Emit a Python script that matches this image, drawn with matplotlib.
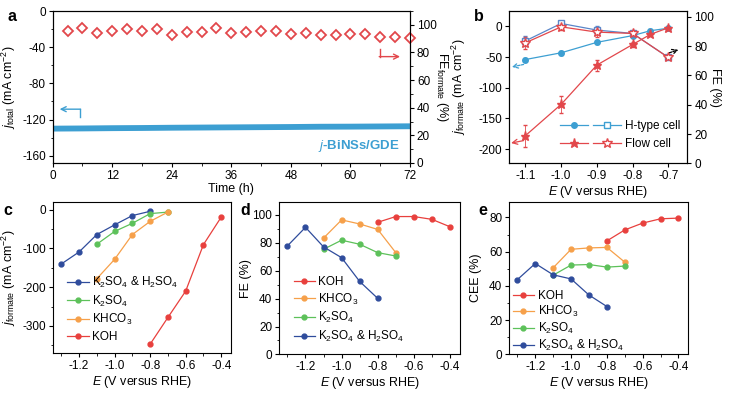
import matplotlib
matplotlib.use("Agg")
import matplotlib.pyplot as plt
import numpy as np
from matplotlib.ticker import AutoMinorLocator, MultipleLocator
from matplotlib.lines import Line2D
from matplotlib.legend_handler import HandlerTuple

plt.rcParams['font.family'] = ['Liberation Sans', 'DejaVu Sans']
plt.rcParams['font.size'] = 9
plt.rcParams['mathtext.fontset'] = 'custom'
plt.rcParams['mathtext.rm'] = 'Liberation Sans'
plt.rcParams['mathtext.it'] = 'Liberation Sans:italic'
plt.rcParams['mathtext.bf'] = 'Liberation Sans:bold'
plt.rcParams['axes.unicode_minus'] = False
plt.rcParams['axes.linewidth'] = 0.8
plt.rcParams['xtick.major.size'] = 3
plt.rcParams['ytick.major.size'] = 3
plt.rcParams['xtick.minor.size'] = 1.8
plt.rcParams['ytick.minor.size'] = 1.8

# ---- panel a: long-term stability
time_h = [0, 6, 12, 18, 24, 30, 36, 42, 48, 54, 60, 66, 72]
j_total = [-130.0, -129.8, -129.5, -129.3, -129.0, -128.8, -128.6, -128.4, -128.2, -127.9, -127.8, -127.6, -127.4]
t_fe = [3, 6, 9, 12, 15, 18, 21, 24, 27, 30, 33, 36, 39, 42, 45, 48, 51, 54, 57, 60, 63, 66, 69, 72]
fe_formate = [95.4, 97.5, 93.8, 95.9, 97.2, 95.6, 97.0, 92.9, 94.7, 94.9, 97.7, 94.0,
              94.7, 95.2, 95.4, 93.3, 94.0, 92.4, 92.4, 93.6, 93.3, 91.5, 91.3, 90.6]

# ---- panel b: H-type cell vs flow cell
E_b = [-1.1, -1.0, -0.9, -0.8, -0.75, -0.7]
j_htype = [-54, -43, -26, -15, -7, -3]
j_htype_err = [3, 3, 2, 2, 2, 1]
j_flow = [-178, -127, -63, -29.5, -13, -2.3]
j_flow_err = [18, 14, 9, 4, 3, 1]
E_b_fe = [-1.1, -1.0, -0.9, -0.8, -0.7]
fe_htype = [83.6, 95.5, 91.0, 88.7, 72.3]
fe_htype_err = [3.5, 2, 3, 2, 1]
fe_flow = [82.3, 93.2, 89.6, 88.7, 72.3]
fe_flow_err = [4, 2, 3, 2, 1]

# ---- panels c-e: electrolytes
E_koh = [-0.8, -0.7, -0.6, -0.5, -0.4]
E_khco3 = [-1.1, -1.0, -0.9, -0.8, -0.7]
E_k2so4 = [-1.1, -1.0, -0.9, -0.8, -0.7]
E_acid = [-1.3, -1.2, -1.1, -1.0, -0.9, -0.8]

j_koh = [-347, -278, -210, -90, -19]
j_khco3 = [-178, -128, -64, -30, -6]
j_k2so4 = [-89, -56, -35, -10, -6]
j_acid = [-140, -109, -64, -39, -15, -4]

fe_koh = [94.5, 98.6, 98.6, 96.6, 91.3]
fe_khco3 = [83.2, 96.2, 93.3, 89.4, 72.8]
fe_k2so4 = [75.2, 81.7, 78.8, 72.8, 70.4]
fe_acid = [77.6, 90.9, 76.9, 69.2, 52.2, 40.1]

cee_koh = [66.3, 72.7, 76.7, 79.2, 79.6]
cee_khco3 = [50.6, 61.4, 62.2, 62.5, 53.9]
cee_k2so4 = [46.3, 52.2, 52.5, 51.0, 51.6]
cee_acid = [43.7, 53.1, 46.5, 44.1, 34.7, 28.0]

c_blue = '#3d9fd2'
c_red = '#e2474b'
c_koh = '#e8403d'
c_khco3 = '#f6a04a'
c_k2so4 = '#5dc15a'
c_acid = '#2f4c9c'

fig = plt.figure(figsize=(7.3, 3.94), dpi=100)

# ================= a
ax = fig.add_axes([0.0722, 0.5863, 0.4894, 0.3857])
ax.plot(time_h, j_total, color=c_blue, lw=4.2, solid_capstyle='butt')
ax.set_xlim(0, 72)
ax.set_ylim(-168, 0)
ax.xaxis.set_major_locator(MultipleLocator(12))
ax.yaxis.set_major_locator(MultipleLocator(40))
ax.xaxis.set_minor_locator(AutoMinorLocator(2))
ax.yaxis.set_minor_locator(AutoMinorLocator(2))
ax.set_xlabel('Time (h)', labelpad=1)
ax.set_ylabel(r'$j_{\rm total}$ (mA cm$^{-2}$)')
ax.yaxis.set_label_coords(-0.098, 0.5)
ax.annotate('', xy=(1.4, -108.5), xytext=(5.6, -108.5),
            arrowprops=dict(arrowstyle='->', color=c_blue, lw=1, shrinkA=0, shrinkB=0))
ax.plot([5.5, 5.5], [-108.5, -117], color=c_blue, lw=1)
ax.text(70, -149, r'$\it{j}$-BiNSs/GDE', color=c_blue, fontweight='bold',
        fontsize=9.5, ha='right', va='center')
ax2 = ax.twinx()
ax2.plot(t_fe, fe_formate, 'D', ms=5, mfc='white', mec=c_red, mew=1.3, clip_on=False)
ax2.set_ylim(0, 110)
ax2.yaxis.set_major_locator(MultipleLocator(20))
ax2.yaxis.set_minor_locator(AutoMinorLocator(2))
ax2.set_ylabel(r'FE$_{\rm formate}$ (%)', rotation=270)
ax2.yaxis.set_label_coords(1.112, 0.5)
ax2.annotate('', xy=(70.0, 77), xytext=(65.8, 77),
             arrowprops=dict(arrowstyle='->', color=c_red, lw=1, shrinkA=0, shrinkB=0))
ax2.plot([65.9, 65.9], [77, 82.5], color=c_red, lw=1)
ax.text(-0.114, 0.967, 'a', transform=ax.transAxes, fontsize=11.5, fontweight='bold',
        ha='center', va='center')

# ================= b
bx = fig.add_axes([0.6977, 0.5855, 0.2438, 0.3865])
bx.errorbar(E_b, j_htype, yerr=j_htype_err, color=c_blue, marker='o', ms=4,
            lw=0.9, capsize=1.5, elinewidth=0.6)
bx.errorbar(E_b, j_flow, yerr=j_flow_err, color=c_red, marker='*', ms=6.5,
            lw=0.9, capsize=1.5, elinewidth=0.6)
bx.set_xlim(-1.145, -0.647)
bx.set_ylim(-223, 25)
bx.yaxis.set_major_locator(MultipleLocator(50))
bx.set_xticks([-1.1, -1.0, -0.9, -0.8, -0.7])
bx.set_xticklabels(['-1.1', '-1.0', '-0.9', '-0.8', '-0.7'])
bx.set_xlabel(r'$E$ (V versus RHE)', labelpad=1)
bx.set_ylabel(r'$j_{\rm formate}$ (mA cm$^{-2}$)')
bx.yaxis.set_label_coords(-0.232, 0.5)
bx.annotate('', xy=(-1.138, -66), xytext=(-1.105, -62),
            arrowprops=dict(arrowstyle='->', color=c_blue, lw=0.9, ls=(0, (2, 1)),
                            shrinkA=0, shrinkB=0))
bx.annotate('', xy=(-1.14, -190), xytext=(-1.105, -186),
            arrowprops=dict(arrowstyle='->', color=c_red, lw=0.9, shrinkA=0, shrinkB=0))
bx2 = bx.twinx()
bx2.errorbar(E_b_fe, fe_htype, yerr=fe_htype_err, color='#5a86c9', marker='s', ms=4,
             mfc='white', lw=0.9, capsize=1.5, elinewidth=0.6)
bx2.errorbar(E_b_fe, fe_flow, yerr=fe_flow_err, color=c_red, marker='*', ms=7,
             mfc='white', lw=0.9, capsize=1.5, elinewidth=0.6)
bx2.set_ylim(0, 104)
bx2.yaxis.set_major_locator(MultipleLocator(20))
bx2.set_ylabel('FE (%)', rotation=270)
bx2.yaxis.set_label_coords(1.19, 0.5)
bx2.annotate('', xy=(-0.672, 77.5), xytext=(-0.697, 75.5),
             arrowprops=dict(arrowstyle='->', color='black', lw=0.9, ls=(0, (2, 1)),
                             shrinkA=0, shrinkB=0))
h1 = Line2D([], [], color=c_blue, marker='o', ms=4, lw=0.9)
h2 = Line2D([], [], color=c_blue, marker='s', ms=4, mfc='white', lw=0.9)
h3 = Line2D([], [], color=c_red, marker='*', ms=6.5, lw=0.9)
h4 = Line2D([], [], color=c_red, marker='*', ms=7, mfc='white', lw=0.9)
bx2.legend([(h1, h2), (h3, h4)], ['H-type cell', 'Flow cell'],
           handler_map={tuple: HandlerTuple(ndivide=None, pad=0.4)},
           handlelength=5.2, frameon=False, loc='lower right', fontsize=8.5,
           bbox_to_anchor=(1.02, 0.02), handletextpad=0.3, labelspacing=0.45)
bx.text(-0.17, 0.967, 'b', transform=bx.transAxes, fontsize=11.5, fontweight='bold',
        ha='center', va='center')

# ================= c, d, e
series_E = [E_acid, E_k2so4, E_khco3, E_koh]
series_c = [c_acid, c_k2so4, c_khco3, c_koh]
names_c = [r'K$_2$SO$_4$ & H$_2$SO$_4$', r'K$_2$SO$_4$', r'KHCO$_3$', 'KOH']

cx = fig.add_axes([0.073, 0.1028, 0.2434, 0.3845])
for E, v, col, name in zip(series_E, [j_acid, j_k2so4, j_khco3, j_koh], series_c, names_c):
    cx.plot(E, v, color=col, marker='o', ms=3.5, lw=0.9, label=name)
cx.set_ylim(-371, 20)
cx.yaxis.set_major_locator(MultipleLocator(100))
cx.set_ylabel(r'$j_{\rm formate}$ (mA cm$^{-2}$)')
cx.yaxis.set_label_coords(-0.2, 0.5)
cx.legend(frameon=False, loc='lower left', fontsize=8.5, handlelength=1.8,
          handletextpad=0.3, labelspacing=0.3, bbox_to_anchor=(0.02, 0.0))
cx.text(-0.255, 0.947, 'c', transform=cx.transAxes, fontsize=11.5, fontweight='bold',
        ha='center', va='center')

dx = fig.add_axes([0.3826, 0.1003, 0.2474, 0.3870])
order_d = [3, 2, 1, 0]
vals_d = [fe_acid, fe_k2so4, fe_khco3, fe_koh]
for i in order_d:
    dx.plot(series_E[i], vals_d[i], color=series_c[i], marker='o', ms=3.5, lw=0.9,
            label=names_c[i])
dx.set_ylim(0, 109)
dx.yaxis.set_major_locator(MultipleLocator(20))
dx.set_ylabel('FE (%)')
dx.yaxis.set_label_coords(-0.15, 0.5)
dx.legend(frameon=False, loc='lower left', fontsize=8.5, handlelength=1.8,
          handletextpad=0.3, labelspacing=0.3, bbox_to_anchor=(0.02, 0.0))
dx.text(-0.19, 0.947, 'd', transform=dx.transAxes, fontsize=11.5, fontweight='bold',
        ha='center', va='center')

ex = fig.add_axes([0.6977, 0.1003, 0.2452, 0.3870])
vals_e = [cee_acid, cee_k2so4, cee_khco3, cee_koh]
for i in order_d:
    ex.plot(series_E[i], vals_e[i], color=series_c[i], marker='o', ms=3.5, lw=0.9,
            label=names_c[i])
ex.set_ylim(0, 89)
ex.yaxis.set_major_locator(MultipleLocator(20))
ex.set_ylabel('CEE (%)')
ex.yaxis.set_label_coords(-0.15, 0.5)
ex.legend(frameon=False, loc='lower left', fontsize=8.5, handlelength=1.8,
          handletextpad=0.3, labelspacing=0.15, bbox_to_anchor=(-0.04, -0.06))
ex.text(-0.147, 0.947, 'e', transform=ex.transAxes, fontsize=11.5, fontweight='bold',
        ha='center', va='center')

for a in (cx, dx, ex):
    a.set_xlim(-1.345, -0.345)
    a.set_xticks([-1.2, -1.0, -0.8, -0.6, -0.4])
    a.set_xticklabels(['-1.2', '-1.0', '-0.8', '-0.6', '-0.4'])
    a.xaxis.set_minor_locator(AutoMinorLocator(2))
    a.yaxis.set_minor_locator(AutoMinorLocator(2))
    a.set_xlabel(r'$E$ (V versus RHE)', labelpad=1)

for a in (ax, ax2, bx, bx2, cx, dx, ex):
    a.tick_params(labelsize=8.5, pad=2)
    a.tick_params(which='both', direction='out')

fig.savefig('out.png', dpi=100)
